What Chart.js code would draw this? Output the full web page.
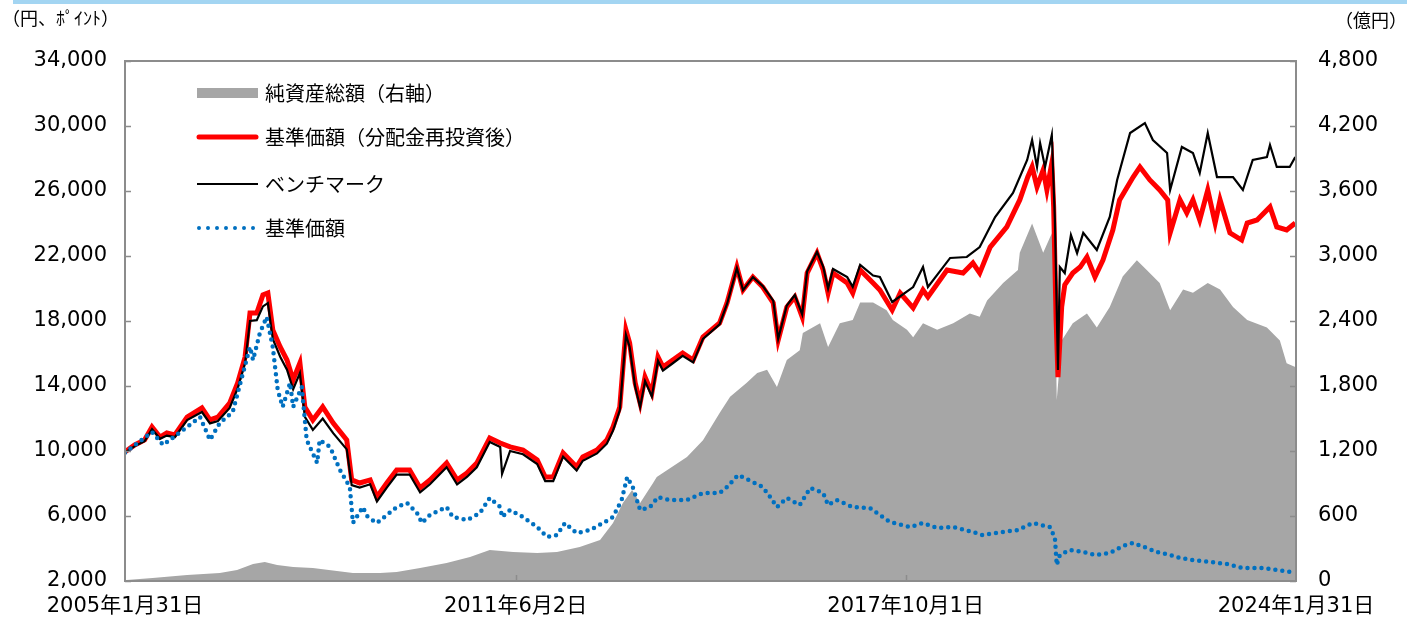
<!DOCTYPE html>
<html>
<head>
<meta charset="utf-8">
<script src="https://cdn.jsdelivr.net/npm/chart.js@4.4.1/dist/chart.umd.min.js"></script>
<style>
  html, body { margin: 0; padding: 0; background: #fff; }
  #wrap { position: relative; width: 1407px; height: 619px; }
</style>
</head>
<body>
<div id="wrap"><canvas id="chart" width="1407" height="619"></canvas></div>
<script>
// x values are decimal years
const xTickValues = [2005.082, 2011.419, 2017.748, 2024.082];
const xTickLabels = ["2005年1月31日", "2011年6月2日", "2017年10月1日", "2024年1月31日"];

// 純資産総額 (億円, right axis)
const assetDates = [
  2005.11, 2005.53, 2006.09, 2006.62, 2006.90, 2007.16, 2007.35, 2007.55, 2007.81,
  2008.13, 2008.52, 2008.78, 2009.22, 2009.49, 2009.87, 2010.30, 2010.68, 2011.00,
  2011.38, 2011.77, 2012.09, 2012.46, 2012.79, 2013.00, 2013.16, 2013.31, 2013.44,
  2013.65, 2013.71, 2014.20, 2014.46, 2014.73, 2014.90, 2015.17, 2015.34, 2015.50,
  2015.66, 2015.82, 2016.03, 2016.08, 2016.36, 2016.49, 2016.68, 2016.89, 2017.01,
  2017.22, 2017.44, 2017.54, 2017.77, 2017.87, 2018.03, 2018.26, 2018.52, 2018.79,
  2018.95, 2019.07, 2019.33, 2019.57, 2019.60, 2019.80, 2019.88, 2019.98, 2020.12,
  2020.17, 2020.20, 2020.28, 2020.46, 2020.69, 2020.85, 2021.06, 2021.27, 2021.50,
  2021.66, 2021.87, 2022.04, 2022.25, 2022.41, 2022.65, 2022.85, 2023.06, 2023.29,
  2023.61, 2023.82, 2023.93, 2024.07
];
const assetValues = [
  9, 28, 55, 74, 102, 157, 175, 148, 129,
  120, 92, 74, 74, 83, 120, 166, 222, 286,
  268, 258, 268, 314, 378, 535, 720, 840, 720,
  905, 960, 1145, 1300, 1550, 1700, 1830, 1920, 1950,
  1790, 2040, 2130, 2290, 2380, 2160, 2380, 2410, 2570,
  2570, 2500, 2410, 2320, 2250, 2380, 2320, 2380, 2470,
  2440, 2590, 2750, 2870, 3030, 3300, 3180, 3030, 3210,
  2780, 1670, 2220, 2380, 2470, 2340, 2530, 2810, 2960,
  2870, 2750, 2500, 2690, 2660, 2750, 2690, 2530, 2410,
  2340, 2220, 2010, 1975
];

// 基準価額（分配金再投資後）
const reinvDates = [
  2005.08, 2005.24, 2005.40, 2005.52, 2005.65, 2005.76, 2005.89,
  2006.09, 2006.33, 2006.46, 2006.59, 2006.78, 2006.91,
  2007.03, 2007.11, 2007.22, 2007.32, 2007.40, 2007.48, 2007.60, 2007.71, 2007.81, 2007.92,
  2008.00, 2008.13, 2008.29, 2008.46, 2008.68, 2008.76, 2008.89,
  2009.06, 2009.17, 2009.33, 2009.49, 2009.70, 2009.87,
  2010.03, 2010.30, 2010.47, 2010.63, 2010.79,
  2011.00, 2011.17, 2011.33, 2011.54, 2011.77, 2011.90,
  2012.03, 2012.19, 2012.41, 2012.51, 2012.74, 2012.90,
  2013.00, 2013.11, 2013.21, 2013.27, 2013.36, 2013.44, 2013.52, 2013.63, 2013.73, 2013.81, 2013.97,
  2014.13, 2014.30, 2014.46, 2014.73, 2014.85,
  2015.01, 2015.11, 2015.27, 2015.43, 2015.60, 2015.68, 2015.82, 2015.95,
  2016.07, 2016.15, 2016.31, 2016.41, 2016.49, 2016.57, 2016.80, 2016.89,
  2017.01, 2017.22, 2017.33, 2017.53, 2017.66, 2017.87,
  2018.03, 2018.11, 2018.42, 2018.68, 2018.84, 2018.95,
  2019.12, 2019.39, 2019.60, 2019.73, 2019.80, 2019.88, 2019.98,
  2020.04, 2020.12, 2020.15, 2020.19, 2020.22, 2020.28, 2020.33, 2020.46, 2020.58, 2020.69, 2020.82, 2020.95,
  2021.11, 2021.22, 2021.44, 2021.55, 2021.71, 2021.87,
  2022.00, 2022.04, 2022.20, 2022.31, 2022.41, 2022.52, 2022.65, 2022.77, 2022.85,
  2023.01, 2023.20, 2023.29, 2023.45, 2023.66, 2023.77, 2023.93,
  2024.07
];
const reinvValues = [
  9940, 10370, 10680, 11480, 10860, 11110, 10990,
  12090, 12650, 11910, 12090, 12950, 14190,
  15780, 18490, 18490, 19600, 19720, 17450, 16400, 15600, 14370, 15420,
  12710, 11910, 12710, 11720, 10680, 8220, 8030,
  8220, 7170, 8030, 8830, 8830, 7720,
  8220, 9260, 8220, 8650, 9260,
  10800, 10490, 10250, 10060, 9450, 8400,
  8400, 9880, 9020, 9630, 10060, 10680,
  11480, 12710, 17450, 16650, 14190, 12950, 14550, 13570, 15780, 15170, 15600,
  16030, 15600, 17020, 17880, 19110,
  21320, 19910, 20710, 20090, 19110, 16830, 18860, 19480,
  18250, 20950, 22180, 21140, 19720, 20950, 20340, 19720,
  21140, 20340, 19910, 18680, 19720, 18800,
  19910, 19480, 21140, 20950, 21570, 20950,
  22550, 23790, 25450, 26860, 27480, 26250, 27290,
  26060, 27720, 25020, 18060, 14550, 18860, 20220, 20950, 21320, 21940, 20710, 21750,
  23600, 25450, 26860, 27480, 26680, 26060,
  25450, 23420, 25450, 24650, 25450, 24220, 26060, 24030, 25450,
  23420, 22980, 24030, 24220, 25020, 23790, 23600,
  24030
];

// ベンチマーク
const benchDates = [
  2005.08, 2005.24, 2005.40, 2005.52, 2005.65, 2005.76, 2005.89,
  2006.09, 2006.33, 2006.46, 2006.59, 2006.78, 2006.91,
  2007.03, 2007.11, 2007.22, 2007.32, 2007.40, 2007.48, 2007.60, 2007.71, 2007.81, 2007.92,
  2008.00, 2008.13, 2008.29, 2008.46, 2008.68, 2008.76, 2008.89,
  2009.06, 2009.17, 2009.33, 2009.49, 2009.70, 2009.87,
  2010.03, 2010.30, 2010.47, 2010.63, 2010.79,
  2011.00, 2011.17, 2011.20, 2011.33, 2011.54, 2011.77, 2011.90,
  2012.03, 2012.19, 2012.41, 2012.51, 2012.74, 2012.90,
  2013.00, 2013.11, 2013.21, 2013.27, 2013.36, 2013.44, 2013.52, 2013.63, 2013.73, 2013.81, 2013.97,
  2014.13, 2014.30, 2014.46, 2014.73, 2014.85,
  2015.01, 2015.11, 2015.27, 2015.43, 2015.60, 2015.68, 2015.82, 2015.95,
  2016.07, 2016.15, 2016.31, 2016.41, 2016.49, 2016.57, 2016.80, 2016.89,
  2017.01, 2017.22, 2017.33, 2017.53, 2017.87,
  2018.03, 2018.11, 2018.47, 2018.74, 2018.95,
  2019.20, 2019.49, 2019.72, 2019.80, 2019.88, 2019.93,
  2020.01, 2020.12, 2020.17, 2020.22, 2020.25, 2020.33, 2020.43, 2020.53, 2020.63, 2020.85,
  2021.06, 2021.18, 2021.39, 2021.63, 2021.76, 2021.99,
  2022.04, 2022.23, 2022.41, 2022.52, 2022.65, 2022.80,
  2023.06, 2023.22, 2023.38, 2023.61, 2023.66, 2023.77, 2023.98,
  2024.07
];
const benchValues = [
  9900, 10300, 10600, 11350, 10750, 10950, 10850,
  11900, 12400, 11700, 11850, 12650, 13850,
  15400, 18000, 18050, 18900, 19100, 16900, 15800, 15000, 13800, 14800,
  12100, 11300, 12000, 11100, 10100, 7900, 7750,
  7950, 6900, 7750, 8550, 8550, 7450,
  7950, 9000, 7950, 8400, 9000,
  10550, 10250, 8600, 10000, 9800, 9200, 8150,
  8150, 9650, 8800, 9400, 9850, 10450,
  11250, 12500, 17150, 16400, 13950, 12700, 14300, 13350, 15550, 14950, 15400,
  15850, 15450, 16900, 17800, 19050,
  21250, 19900, 20700, 20150, 19250, 16900, 18950, 19600,
  18400, 21050, 22250, 21350, 20000, 21200, 20700, 20100,
  21450, 20800, 20710, 19170, 20090,
  21320, 20090, 21880, 21940, 22550,
  24400, 25880, 27910, 29140, 27480, 28950,
  27480, 29450, 24220, 14990, 21320, 20950, 23290, 22180, 23420, 22370,
  24400, 26680, 29570, 30180, 29140, 28340,
  26060, 28710, 28340, 27110, 29570, 26860,
  26860, 26060, 27910, 28090, 28830, 27480, 27480,
  28090
];

// 基準価額
const navDates = [
  2005.08, 2005.52, 2005.70, 2006.09, 2006.30, 2006.46, 2006.62, 2006.83, 2006.98,
  2007.11, 2007.16, 2007.27, 2007.38, 2007.48, 2007.56, 2007.64, 2007.76, 2007.81, 2007.95,
  2008.03, 2008.20, 2008.24, 2008.41, 2008.57, 2008.73, 2008.78, 2008.94,
  2009.02, 2009.17, 2009.33, 2009.49, 2009.66, 2009.82, 2009.90,
  2010.03, 2010.30, 2010.40, 2010.63, 2010.84,
  2011.00, 2011.17, 2011.20, 2011.33, 2011.54, 2011.77, 2011.93,
  2012.09, 2012.22, 2012.41, 2012.63, 2012.84,
  2013.00, 2013.14, 2013.23, 2013.32, 2013.44, 2013.60, 2013.73, 2013.92,
  2014.20, 2014.46, 2014.73, 2014.85,
  2015.03, 2015.27, 2015.43, 2015.55, 2015.66, 2015.82,
  2016.03, 2016.20, 2016.41, 2016.49, 2016.63, 2016.89,
  2017.17, 2017.49, 2017.82, 2018.03, 2018.26, 2018.52, 2018.84, 2018.99,
  2019.33, 2019.57, 2019.81, 2020.09, 2020.17, 2020.20, 2020.25, 2020.41, 2020.63, 2020.82,
  2021.06, 2021.27, 2021.44, 2021.66, 2021.83,
  2022.04, 2022.20, 2022.41, 2022.69, 2022.96,
  2023.22, 2023.55, 2023.77, 2024.02
];
const navValues = [
  9900, 11170, 10370, 11480, 12090, 10680, 11720, 12400, 14550,
  16400, 15600, 17260, 18250, 16400, 13750, 12710, 14190, 12710, 13940,
  10680, 9260, 10680, 10250, 8830, 7780, 5570, 6550,
  5940, 5570, 6060, 6550, 6800, 6180, 5570,
  6060, 6550, 5940, 5750, 6180,
  7110, 6550, 5940, 6370, 5940, 5320, 4710,
  4830, 5570, 4950, 5140, 5570,
  5940, 6980, 8400, 7780, 6370, 6550, 7170, 6980,
  6980, 7420, 7420, 7780,
  8520, 8090, 7780, 7170, 6550, 7110,
  6680, 7720, 7420, 6680, 6980, 6550,
  6490, 5630, 5320, 5570, 5260, 5320, 5020, 4830,
  5020, 5140, 5570, 5320, 4650, 2980, 3600, 3910, 3780, 3600,
  3720, 4150, 4340, 4030, 3780,
  3600, 3420, 3290, 3170, 3050,
  2800, 2800, 2680, 2550
];

function toPoints(dates, values) {
  return dates.map((d, i) => ({ x: d, y: values[i] }));
}

const numFont = { family: "'DejaVu Sans', 'Noto Sans CJK JP', sans-serif", size: 21 };
const jpFont = "'Noto Sans CJK JP', sans-serif";

// frame, inward ticks, legend and axis titles
const decorations = {
  id: "decorations",
  beforeDraw(chart) {
    const ctx = chart.ctx;
    ctx.save();
    ctx.fillStyle = "#a3d5f2";
    ctx.fillRect(13, 0, chart.width - 13, 4);
    ctx.restore();
  },
  afterDatasetsDraw(chart) {
    const { ctx, chartArea: a, scales } = chart;
    ctx.save();
    ctx.strokeStyle = "#8c8c8c";
    ctx.lineWidth = 2;
    ctx.strokeRect(a.left, a.top, a.right - a.left, a.bottom - a.top);

    ctx.lineWidth = 1.5;
    ctx.beginPath();
    scales.y.ticks.forEach((t) => {
      const py = Math.round(scales.y.getPixelForValue(t.value)) + 0.5;
      ctx.moveTo(a.left, py);
      ctx.lineTo(a.left + 6, py);
    });
    scales.y2.ticks.forEach((t) => {
      const py = Math.round(scales.y2.getPixelForValue(t.value)) + 0.5;
      ctx.moveTo(a.right - 6, py);
      ctx.lineTo(a.right, py);
    });
    xTickValues.slice(1, -1).forEach((v) => {
      const px = Math.round(scales.x.getPixelForValue(v)) + 0.5;
      ctx.moveTo(px, a.bottom);
      ctx.lineTo(px, a.bottom - 6);
    });
    ctx.stroke();
    ctx.restore();
  },
  afterDraw(chart) {
    const ctx = chart.ctx;
    ctx.save();
    // legend
    const x0 = 197, x1 = 258, tx = 265;
    ctx.fillStyle = "#a6a6a6";
    ctx.fillRect(x0, 88, x1 - x0, 10);

    ctx.lineCap = "round";
    ctx.strokeStyle = "#ff0000";
    ctx.lineWidth = 5;
    ctx.beginPath(); ctx.moveTo(x0 + 2, 137); ctx.lineTo(x1 - 2, 137); ctx.stroke();

    ctx.lineCap = "butt";
    ctx.strokeStyle = "#000";
    ctx.lineWidth = 2;
    ctx.beginPath(); ctx.moveTo(x0, 184); ctx.lineTo(x1, 184); ctx.stroke();

    ctx.lineCap = "round";
    ctx.strokeStyle = "#0070c0";
    ctx.lineWidth = 4;
    ctx.setLineDash([0, 9]);
    ctx.beginPath(); ctx.moveTo(x0 + 2, 228); ctx.lineTo(x1 - 4, 228); ctx.stroke();
    ctx.setLineDash([]);

    ctx.fillStyle = "#000";
    ctx.font = "20px " + jpFont;
    ctx.textBaseline = "middle";
    ctx.textAlign = "left";
    ctx.fillText("純資産総額（右軸）", tx, 93);
    ctx.fillText("基準価額（分配金再投資後）", tx, 137);
    ctx.fillText("ベンチマーク", tx, 184);
    ctx.fillText("基準価額", tx, 228);

    // axis titles
    ctx.font = "18px " + jpFont;
    ctx.fillText("（円、ﾎﾟｲﾝﾄ）", 2, 18);
    ctx.textAlign = "right";
    ctx.fillText("（億円）", 1407, 20);
    ctx.restore();
  },
};

const lineBase = { pointRadius: 0, tension: 0, fill: false };

const chart = new Chart(document.getElementById("chart"), {
  type: "line",
  data: {
    datasets: [
      {
        ...lineBase,
        label: "基準価額",
        data: toPoints(navDates, navValues),
        yAxisID: "y",
        borderColor: "#0070c0",
        borderWidth: 4.5,
        borderDash: [0, 7],
        borderCapStyle: "round",
        order: 0,
      },
      {
        ...lineBase,
        label: "ベンチマーク",
        data: toPoints(benchDates, benchValues),
        yAxisID: "y",
        borderColor: "#000000",
        borderWidth: 2.2,
        order: 1,
      },
      {
        ...lineBase,
        label: "基準価額（分配金再投資後）",
        data: toPoints(reinvDates, reinvValues),
        yAxisID: "y",
        borderColor: "#ff0000",
        borderWidth: 5,
        order: 2,
      },
      {
        ...lineBase,
        label: "純資産総額（右軸）",
        data: toPoints(assetDates, assetValues),
        yAxisID: "y2",
        borderWidth: 0,
        borderColor: "rgba(0,0,0,0)",
        backgroundColor: "#a6a6a6",
        fill: "origin",
        order: 3,
      },
    ],
  },
  options: {
    responsive: false,
    animation: false,
    events: [],
    layout: { padding: { top: 61, left: 0, right: 0, bottom: 0 } },
    plugins: { legend: { display: false }, tooltip: { enabled: false } },
    scales: {
      x: {
        type: "linear",
        min: xTickValues[0],
        max: xTickValues[3],
        grid: { display: false },
        border: { display: false },
        afterBuildTicks(scale) {
          scale.ticks = xTickValues.map((v) => ({ value: v }));
        },
        afterFit(scale) { scale.height = 38; },
        ticks: {
          autoSkip: false,
          maxRotation: 0,
          padding: 5,
          color: "#000",
          font: numFont,
          callback: (v, i) => xTickLabels[i],
        },
      },
      y: {
        position: "left",
        min: 2000,
        max: 34000,
        grid: { display: false },
        border: { display: false },
        afterFit(scale) { scale.width = 125; },
        ticks: {
          stepSize: 4000,
          padding: 10,
          color: "#000",
          font: numFont,
          callback: (v) => v.toLocaleString("en-US"),
        },
      },
      y2: {
        position: "right",
        min: 0,
        max: 4800,
        grid: { display: false },
        border: { display: false },
        afterFit(scale) { scale.width = 111; },
        ticks: {
          stepSize: 600,
          padding: 14,
          color: "#000",
          font: numFont,
          callback: (v) => v.toLocaleString("en-US"),
        },
      },
    },
  },
  plugins: [decorations],
});
</script>
</body>
</html>
